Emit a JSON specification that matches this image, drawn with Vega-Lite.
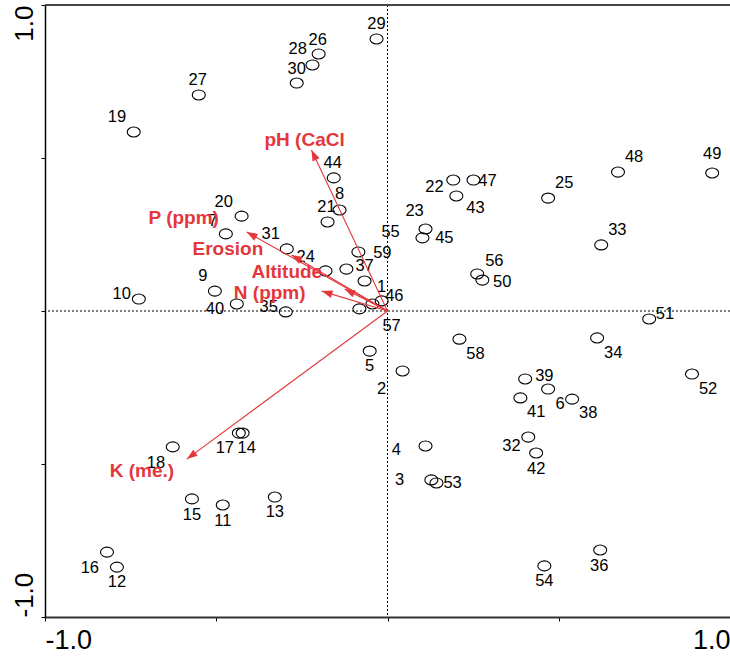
{
  "$schema": "https://vega.github.io/schema/vega-lite/v6.json",
  "width": 685,
  "height": 612,
  "autosize": {"type": "none"},
  "padding": {"left": 45, "top": 5, "right": 0, "bottom": 39},
  "background": "white",
  "config": {"view": {"stroke": null}},
  "datasets": {
    "points": [
      {"id": "1", "x": -0.067, "y": 0.098, "lx": -0.017, "ly": 0.078},
      {"id": "2", "x": 0.044, "y": -0.196, "lx": -0.017, "ly": -0.255},
      {"id": "3", "x": 0.128, "y": -0.552, "lx": 0.035, "ly": -0.552},
      {"id": "4", "x": 0.111, "y": -0.441, "lx": 0.026, "ly": -0.454},
      {"id": "5", "x": -0.052, "y": -0.131, "lx": -0.052, "ly": -0.18},
      {"id": "6", "x": 0.469, "y": -0.255, "lx": 0.504, "ly": -0.304},
      {"id": "7", "x": -0.472, "y": 0.252, "lx": -0.51, "ly": 0.294},
      {"id": "8", "x": -0.14, "y": 0.33, "lx": -0.14, "ly": 0.382},
      {"id": "9", "x": -0.504, "y": 0.065, "lx": -0.539, "ly": 0.114},
      {"id": "10", "x": -0.726, "y": 0.039, "lx": -0.776, "ly": 0.056},
      {"id": "11", "x": -0.481, "y": -0.634, "lx": -0.481, "ly": -0.686},
      {"id": "12", "x": -0.79, "y": -0.837, "lx": -0.79, "ly": -0.886},
      {"id": "13", "x": -0.329, "y": -0.608, "lx": -0.329, "ly": -0.657},
      {"id": "14", "x": -0.423, "y": -0.399, "lx": -0.411, "ly": -0.448},
      {"id": "15", "x": -0.571, "y": -0.614, "lx": -0.571, "ly": -0.667},
      {"id": "16", "x": -0.819, "y": -0.788, "lx": -0.869, "ly": -0.84},
      {"id": "17", "x": -0.434, "y": -0.399, "lx": -0.475, "ly": -0.448},
      {"id": "18", "x": -0.627, "y": -0.444, "lx": -0.676, "ly": -0.497},
      {"id": "19", "x": -0.741, "y": 0.585, "lx": -0.79, "ly": 0.634},
      {"id": "20", "x": -0.426, "y": 0.31, "lx": -0.478, "ly": 0.356},
      {"id": "21", "x": -0.175, "y": 0.291, "lx": -0.178, "ly": 0.34},
      {"id": "22", "x": 0.192, "y": 0.428, "lx": 0.137, "ly": 0.405},
      {"id": "23", "x": 0.111, "y": 0.268, "lx": 0.079, "ly": 0.327},
      {"id": "24", "x": -0.181, "y": 0.131, "lx": -0.239, "ly": 0.176},
      {"id": "25", "x": 0.469, "y": 0.369, "lx": 0.516, "ly": 0.418},
      {"id": "26", "x": -0.201, "y": 0.84, "lx": -0.204, "ly": 0.886},
      {"id": "27", "x": -0.551, "y": 0.706, "lx": -0.554, "ly": 0.755},
      {"id": "28", "x": -0.219, "y": 0.804, "lx": -0.262, "ly": 0.856},
      {"id": "29", "x": -0.032, "y": 0.889, "lx": -0.032, "ly": 0.938},
      {"id": "30", "x": -0.265, "y": 0.745, "lx": -0.265, "ly": 0.791},
      {"id": "31", "x": -0.294, "y": 0.203, "lx": -0.341, "ly": 0.252},
      {"id": "32", "x": 0.411, "y": -0.412, "lx": 0.362, "ly": -0.441},
      {"id": "33", "x": 0.624, "y": 0.216, "lx": 0.671, "ly": 0.265},
      {"id": "34", "x": 0.612, "y": -0.088, "lx": 0.659, "ly": -0.137},
      {"id": "35", "x": -0.297, "y": -0.003, "lx": -0.347, "ly": 0.013},
      {"id": "36", "x": 0.621, "y": -0.781, "lx": 0.618, "ly": -0.833},
      {"id": "37", "x": -0.12, "y": 0.137, "lx": -0.067, "ly": 0.147},
      {"id": "38", "x": 0.539, "y": -0.288, "lx": 0.586, "ly": -0.333},
      {"id": "39", "x": 0.402, "y": -0.222, "lx": 0.458, "ly": -0.212},
      {"id": "40", "x": -0.44, "y": 0.023, "lx": -0.504, "ly": 0.007},
      {"id": "41", "x": 0.388, "y": -0.284, "lx": 0.434, "ly": -0.33},
      {"id": "42", "x": 0.434, "y": -0.464, "lx": 0.434, "ly": -0.516},
      {"id": "43", "x": 0.201, "y": 0.376, "lx": 0.257, "ly": 0.337},
      {"id": "44", "x": -0.157, "y": 0.435, "lx": -0.16, "ly": 0.484},
      {"id": "45", "x": 0.102, "y": 0.239, "lx": 0.166, "ly": 0.239},
      {"id": "46", "x": -0.017, "y": 0.033, "lx": 0.02, "ly": 0.049},
      {"id": "47", "x": 0.251, "y": 0.428, "lx": 0.292, "ly": 0.425},
      {"id": "48", "x": 0.673, "y": 0.454, "lx": 0.72, "ly": 0.503},
      {"id": "49", "x": 0.948, "y": 0.451, "lx": 0.948, "ly": 0.513},
      {"id": "50", "x": 0.277, "y": 0.101, "lx": 0.335, "ly": 0.095},
      {"id": "51", "x": 0.764, "y": -0.026, "lx": 0.81, "ly": -0.01},
      {"id": "52", "x": 0.889, "y": -0.206, "lx": 0.936, "ly": -0.255},
      {"id": "53", "x": 0.143, "y": -0.562, "lx": 0.19, "ly": -0.562},
      {"id": "54", "x": 0.458, "y": -0.833, "lx": 0.458, "ly": -0.882},
      {"id": "55", "x": -0.082, "y": 0.007, "lx": 0.009, "ly": 0.258},
      {"id": "56", "x": 0.262, "y": 0.121, "lx": 0.312, "ly": 0.163},
      {"id": "57", "x": -0.044, "y": 0.023, "lx": 0.012, "ly": -0.049},
      {"id": "58", "x": 0.21, "y": -0.092, "lx": 0.257, "ly": -0.141},
      {"id": "59", "x": -0.085, "y": 0.193, "lx": -0.015, "ly": 0.19}
    ],
    "arrows": [
      {"var": "pH (CaCl", "x": -0.222, "y": 0.526, "lx": -0.242, "ly": 0.559},
      {"var": "P (ppm)", "x": -0.411, "y": 0.258, "lx": -0.595, "ly": 0.304},
      {"var": "Erosion", "x": -0.28, "y": 0.183, "lx": -0.466, "ly": 0.203},
      {"var": "Altitude", "x": -0.125, "y": 0.072, "lx": -0.294, "ly": 0.127},
      {"var": "N (ppm)", "x": -0.192, "y": 0.065, "lx": -0.344, "ly": 0.059},
      {"var": "K (me.)", "x": -0.586, "y": -0.484, "lx": -0.717, "ly": -0.523}
    ],
    "zero": [{"v": 0}],
    "frame": [{"v": 1}]
  },
  "layer": [
    {
      "data": {"name": "zero"},
      "mark": {"type": "rule", "color": "black", "strokeWidth": 1, "strokeDash": [2, 2]},
      "encoding": {
        "x": {"field": "v", "type": "quantitative", "scale": {"domain": [-1, 1], "nice": false, "zero": false},
          "axis": {
            "values": [-1, -0.5, 0, 0.5, 1],
            "grid": false,
            "title": null,
            "domainColor": "#333333",
            "domainWidth": 2,
            "tickColor": "black",
            "tickSize": 4,
            "tickWidth": 1,
            "labelExpr": "datum.value == 1 ? '1.0' : datum.value == -1 ? '-1.0' : ''",
            "labelFont": "Liberation Sans",
            "labelFontSize": 27,
            "labelColor": "black",
            "labelPadding": 6,
            "labelFlush": true,
            "labelOverlap": false,
            "labelBaseline": "top"
          }
        }
      }
    },
    {
      "data": {"name": "zero"},
      "mark": {"type": "rule", "color": "black", "strokeWidth": 1, "strokeDash": [2, 2]},
      "encoding": {
        "y": {"field": "v", "type": "quantitative", "scale": {"domain": [-1, 1], "nice": false, "zero": false},
          "axis": {
            "values": [-1, -0.5, 0, 0.5, 1],
            "grid": false,
            "title": null,
            "domainColor": "black",
            "domainWidth": 1.5,
            "tickColor": "black",
            "tickSize": 4,
            "tickWidth": 1,
            "labelExpr": "datum.value == 1 ? '1.0' : datum.value == -1 ? '-1.0' : ''",
            "labelFont": "Liberation Sans",
            "labelFontSize": 26,
            "labelColor": "black",
            "labelAngle": -90,
            "labelPadding": 9,
            "labelFlush": false,
            "labelOverlap": false,
            "labelAlign": {"condition": {"test": "datum.value < 0", "value": "left"}, "value": "right"},
            "labelBaseline": "alphabetic"
          }
        }
      }
    },
    {
      "data": {"name": "frame"},
      "mark": {"type": "rule", "color": "#444444", "strokeWidth": 2},
      "encoding": {"y": {"field": "v", "type": "quantitative"}}
    },
    {
      "data": {"name": "points"},
      "mark": {"type": "point", "shape": "M-1,0A1,0.77,0,1,1,1,0A1,0.77,0,1,1,-1,0Z", "filled": false, "stroke": "black", "strokeWidth": 1.1, "size": 169, "opacity": 1},
      "encoding": {
        "x": {"field": "x", "type": "quantitative"},
        "y": {"field": "y", "type": "quantitative"}
      }
    },
    {
      "data": {"name": "points"},
      "mark": {"type": "text", "font": "Liberation Sans", "fontSize": 16.5, "color": "black", "align": "center", "baseline": "middle"},
      "encoding": {
        "x": {"field": "lx", "type": "quantitative"},
        "y": {"field": "ly", "type": "quantitative"},
        "text": {"field": "id", "type": "nominal"}
      }
    },
    {
      "data": {"name": "arrows"},
      "mark": {"type": "rule", "color": "#e4373c", "strokeWidth": 1.1},
      "encoding": {
        "x": {"field": "x", "type": "quantitative"},
        "y": {"field": "y", "type": "quantitative"},
        "x2": {"datum": 0},
        "y2": {"datum": 0}
      }
    },
    {
      "data": {"name": "arrows"},
      "transform": [{"calculate": "atan2(datum.x * 343, datum.y * 306) * 180 / PI", "as": "ang"}],
      "mark": {"type": "point", "shape": "M0,0L-0.36,1L0.36,1Z", "filled": true, "color": "#e4373c", "size": 460, "opacity": 1, "strokeWidth": 0},
      "encoding": {
        "x": {"field": "x", "type": "quantitative"},
        "y": {"field": "y", "type": "quantitative"},
        "angle": {"field": "ang", "type": "quantitative", "scale": null}
      }
    },
    {
      "data": {"name": "arrows"},
      "mark": {"type": "text", "font": "Liberation Sans", "fontSize": 19, "fontWeight": "bold", "color": "#e4373c", "align": "center", "baseline": "middle"},
      "encoding": {
        "x": {"field": "lx", "type": "quantitative"},
        "y": {"field": "ly", "type": "quantitative"},
        "text": {"field": "var", "type": "nominal"}
      }
    }
  ]
}
